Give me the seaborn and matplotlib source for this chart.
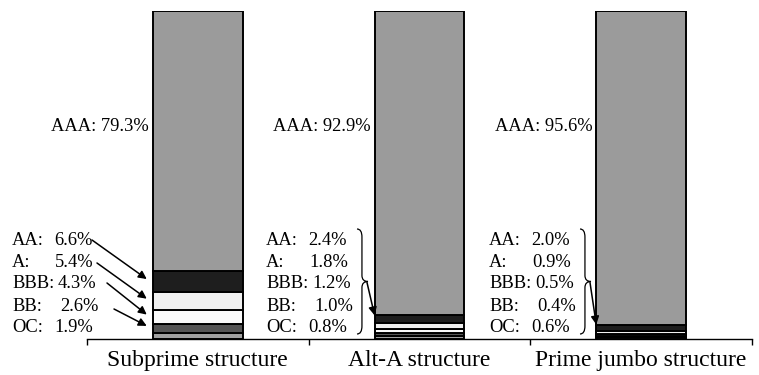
import matplotlib
matplotlib.use("Agg")
import matplotlib.pyplot as plt
from matplotlib.path import Path
from matplotlib.patches import PathPatch
import numpy as np
import pandas as pd
import seaborn as sns

# Deal structures and tranche sizes (% of deal), bottom tranche first
categories = ["Subprime structure", "Alt-A structure", "Prime jumbo structure"]
tranches = ["OC", "BB", "BBB", "A", "AA", "AAA"]
oc = [1.9, 0.8, 0.6]
bb = [2.6, 1.0, 0.4]
bbb = [4.3, 1.2, 0.5]
a = [5.4, 1.8, 0.9]
aa = [6.6, 2.4, 2.0]
aaa = [79.3, 92.9, 95.6]
tranche_colors = ["#a0a0a0", "#555555", "#fbfbfb", "#f0f0f0", "#1e1e1e", "#9b9b9b"]

values = {"OC": oc, "BB": bb, "BBB": bbb, "A": a, "AA": aa, "AAA": aaa}
df = pd.DataFrame({"structure": categories, **values})

sns.set_theme(style="white")
plt.rcParams["font.family"] = ["Liberation Serif", "DejaVu Serif"]

W, H = 759, 375
fig = plt.figure(figsize=(W / 100, H / 100), dpi=100)
ax = fig.add_axes([87 / W, (H - 339) / H, (752 - 87) / W, (339 - 11) / H])

bar_w = 0.405
bottom = np.zeros(len(categories))
for name, col in zip(tranches, tranche_colors):
    sns.barplot(data=df, x="structure", y=name, ax=ax, color=col, width=bar_w,
                bottom=bottom.copy(), edgecolor="black", linewidth=1.4,
                saturation=1, order=categories)
    bottom += df[name].to_numpy()

ax.set_xlim(-0.5, 2.5)
ax.set_ylim(0, 100.1)
ax.set_xlabel("")
ax.set_ylabel("")
ax.set_yticks([])
for s in ["left", "right", "top"]:
    ax.spines[s].set_visible(False)
ax.spines["bottom"].set_color("black")
ax.spines["bottom"].set_linewidth(1.0)
ax.set_xticks([-0.5, 0.5, 1.5, 2.5], minor=True)
ax.tick_params(axis="x", which="minor", length=4.5, width=1.0, color="black",
               direction="out", bottom=True)
ax.tick_params(axis="x", which="major", length=0, pad=8, labelsize=17,
               labelcolor="black")


def fpx(x, y):
    """Pixel position measured from the top-left corner -> figure fraction."""
    return x / W, (H - y) / H


FS = 13.3
cum = np.cumsum(np.array([oc, bb, bbb, a, aa, aaa]), axis=0)

# AAA labels beside each bar
for i in range(len(categories)):
    left_px = ax.transData.transform((i - bar_w / 2, 0))[0]
    fig.text(*fpx(left_px - 4, 131), f"AAA: {aaa[i]:.1f}%", ha="right",
             va="baseline", fontsize=FS, color="black")

# Subordinate tranche labels
rows = ["AA", "A", "BBB", "BB", "OC"]
baselines = [245, 267, 288, 311, 332.5]
value_dx = [42, 43, 46, 48, 42]
label_x = [12, 266, 489]
for i in range(len(categories)):
    for r, yb, dx in zip(rows, baselines, value_dx):
        fig.text(*fpx(label_x[i], yb), f"{r}:", ha="left", va="baseline",
                 fontsize=FS, color="black")
        fig.text(*fpx(label_x[i] + dx, yb), f"{values[r][i]:.1f}%", ha="left",
                 va="baseline", fontsize=FS, color="black")

# Subprime: one arrow per tranche into its segment
arrow_tails = {"AA": (92, 240), "A": (97, 263), "BBB": (107, 283), "BB": (114, 309)}
idx = {t: k for k, t in enumerate(tranches)}
for t, (tx, ty) in arrow_tails.items():
    k = idx[t]
    ymid = cum[k, 0] - values[t][0] / 2
    ax.annotate("", xy=(0 - bar_w / 2 - 0.028, ymid + 0.8), xycoords="data",
                xytext=fpx(tx, ty), textcoords="figure fraction",
                arrowprops=dict(arrowstyle="-|>", color="black", lw=1.1,
                                mutation_scale=12, shrinkA=0, shrinkB=0))


def brace(x0, y_top, y_bot, w):
    """Right-facing curly brace in pixel coords (top-left origin)."""
    ym = (y_top + y_bot) / 2
    xm = x0 + w * 0.45
    pts = [
        (x0, y_top), (xm, y_top), (xm, y_top + 8),
        (xm, ym - 6),
        (xm, ym), (x0 + w, ym),
        (xm, ym), (xm, ym + 6),
        (xm, y_bot - 8),
        (xm, y_bot), (x0, y_bot),
    ]
    codes = [Path.MOVETO, Path.CURVE3, Path.CURVE3, Path.LINETO,
             Path.CURVE3, Path.CURVE3, Path.CURVE3, Path.CURVE3,
             Path.LINETO, Path.CURVE3, Path.CURVE3]
    verts = [fpx(*p) for p in pts]
    fig.add_artist(PathPatch(Path(verts, codes), transform=fig.transFigure,
                             facecolor="none", edgecolor="black", lw=0.9))
    return x0 + w, ym


# Alt-A and prime: one brace for all subordinate tranches, arrow to the stack
for i, bx in [(1, 357), (2, 580)]:
    tip = brace(bx, 229, 334, 11)
    top_sub = cum[idx["AA"], i]
    ax.annotate("", xy=(i - bar_w / 2, top_sub), xycoords="data",
                xytext=fpx(tip[0] - 1, tip[1] + 1), textcoords="figure fraction",
                arrowprops=dict(arrowstyle="-|>", color="black", lw=1.1,
                                mutation_scale=12, shrinkA=0, shrinkB=0))

fig.savefig("out.png", dpi=100)
